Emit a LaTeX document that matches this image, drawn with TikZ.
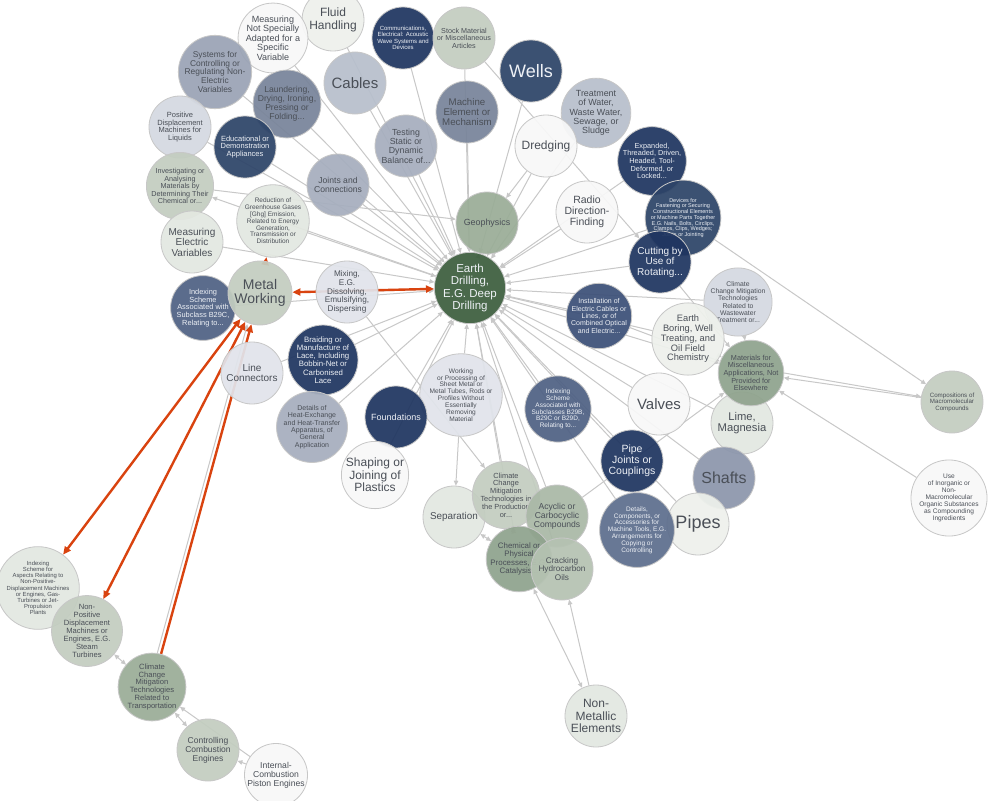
\documentclass[tikz,border=0pt]{standalone}
\usepackage{fontspec}
\setmainfont{Liberation Sans}
\usepackage{xcolor}
\usepackage{tikz}
\usetikzlibrary{arrows.meta, backgrounds}
\definecolor{pcnavy}{HTML}{1F3560}
\definecolor{pcnavyb}{HTML}{2D4468}
\definecolor{pcslate}{HTML}{4F6184}
\definecolor{pcslateb}{HTML}{3C5078}
\definecolor{pcslatec}{HTML}{5D6E8D}
\definecolor{pcsteel}{HTML}{78849A}
\definecolor{pcsteelb}{HTML}{8C96AC}
\definecolor{pcsteelc}{HTML}{9AA3B5}
\definecolor{pcmist}{HTML}{A6AEBE}
\definecolor{pcmistb}{HTML}{B7BFCC}
\definecolor{pcfog}{HTML}{D5D9E1}
\definecolor{pcfogb}{HTML}{E1E4EB}
\definecolor{pcwhite}{HTML}{F8F8F8}
\definecolor{pcsage}{HTML}{C3CDC0}
\definecolor{pcsageb}{HTML}{B5C2B2}
\definecolor{pcsagec}{HTML}{A9B8A6}
\definecolor{pcmoss}{HTML}{9AAD97}
\definecolor{pcmossb}{HTML}{8FA38D}
\definecolor{pcpale}{HTML}{E3E8E1}
\definecolor{pcpaleb}{HTML}{EEF1EC}
\definecolor{pcforest}{HTML}{3D5E3E}
\definecolor{pcedge}{HTML}{C8C8C8}
\definecolor{pcorange}{HTML}{D9430F}
\definecolor{pcink}{HTML}{4A4F57}
\definecolor{pcsnow}{HTML}{EEF1F6}

\begin{document}
\begin{tikzpicture}[
  x=1pt, y=-1pt,
  bub/.style={
    circle,
    draw=black!22,
    line width=0.8pt,
    fill opacity=0.93,
    text opacity=1,
    minimum size=62pt,
    inner sep=0pt,
    align=center,
    text=pcink
  },
  dark/.style={bub, text=pcsnow},
  fs/.style={font=\fontsize{#1}{\fpeval{1.05*#1}}\selectfont},
  link/.style={
    draw=pcedge,
    line width=1pt,
    -{Triangle[length=5pt,width=4.5pt]}
  },
  duplex/.style={link, {Triangle[length=5pt,width=4.5pt]}-{Triangle[length=5pt,width=4.5pt]}},
  hot/.style={
    draw=pcorange,
    line width=2.4pt,
    -{Triangle[length=8pt,width=7pt]}
  }
]
  \useasboundingbox (0,0) rectangle (1000,800);

  % upper cluster
  \node[bub, fill=pcpaleb, fs=12] (fluid) at (333,20) {Fluid\\Handling};
  \node[bub, fill=pcwhite, fs=9] (measnot) at (273,38) {Measuring\\Not Specially\\Adapted for a\\Specific\\Variable};
  \node[dark, fill=pcnavy, fs=6] (comm) at (403,38) {Communications,\\Electrical: Acoustic\\Wave Systems and\\Devices};
  \node[bub, fill=pcsage, fs=7.2] (stock) at (464,38) {Stock Material\\or Miscellaneous\\Articles};
  \node[dark, fill=pcnavyb, fs=18] (wells) at (531,71) {Wells};
  \node[bub, fill=pcmistb, fs=15] (cables) at (355,83) {Cables};
  \node[bub, fill=pcsteelc, fs=8.4] (systems) at (215,72) {Systems for\\Controlling or\\Regulating Non-\\Electric\\Variables};
  \node[bub, fill=pcsteel, fs=8.6] (laund) at (287,104) {Laundering,\\Drying, Ironing,\\Pressing or\\Folding...};
  \node[bub, fill=pcsteel, fs=9.7] (machine) at (467,112) {Machine\\Element or\\Mechanism};
  \node[bub, fill=pcmistb, fs=8.9] (treat) at (596,113) {Treatment\\of Water,\\Waste Water,\\Sewage, or\\Sludge};
  \node[bub, fill=pcwhite, fs=12] (dredging) at (546,146) {Dredging};
  \node[bub, fill=pcfog, fs=7.5] (posdisp) at (180,127) {Positive\\Displacement\\Machines for\\Liquids};
  \node[dark, fill=pcnavyb, fs=7.5] (edu) at (245,147) {Educational or\\Demonstration\\Appliances};
  \node[bub, fill=pcmist, fs=8.8] (testing) at (406,146) {Testing\\Static or\\Dynamic\\Balance of...};
  \node[dark, fill=pcnavy, fs=7.3] (expanded) at (652,161) {Expanded,\\Threaded, Driven,\\Headed, Tool-\\Deformed, or\\Locked...};
  \node[bub, fill=pcsage, fs=7.2] (invest) at (180,186) {Investigating or\\Analysing\\Materials by\\Determining Their\\Chemical or...};
  \node[bub, fill=pcmist, fs=8.6] (joints) at (338,185) {Joints and\\Connections};
  \node[bub, fill=pcmoss, fs=8.9] (geo) at (487,223) {Geophysics};
  \node[bub, fill=pcwhite, fs=10.5] (radio) at (587,212) {Radio\\Direction-\\Finding};
  \node[dark, fill=pcnavyb, fs=5.5] (fasten) at (683,218) {Devices for\\Fastening or Securing\\Constructional Elements\\or Machine Parts Together\\E.G. Nails, Bolts, Circlips,\\Clamps, Clips, Wedges;\\Joints or Jointing};
  \node[bub, fill=pcpale, fs=6.5] (red) at (273,221) {Reduction of\\Greenhouse Gases\\{[Ghg]} Emission,\\Related to Energy\\Generation,\\Transmission or\\Distribution};
  \node[bub, fill=pcpale, fs=10] (measel) at (192,242) {Measuring\\Electric\\Variables};
  \node[dark, fill=pcnavy, fs=10] (cutting) at (660,262) {Cutting by\\Use of\\Rotating...};

  % middle band
  \node[bub, fill=pcfogb, fs=8.2] (mixing) at (347,292) {Mixing,\\E.G.\\Dissolving,\\Emulsifying,\\Dispersing};
  \node[dark, fill=pcslate, fs=7.4] (b29c) at (203,308) {Indexing\\Scheme\\Associated with\\Subclass B29C,\\Relating to...};
  \node[bub, fill=pcsage, fs=14, minimum size=64pt] (mw) at (260,293) {Metal\\Working};
  \node[bub, fill=pcfog, fs=6.8] (ccmtw) at (738,302) {Climate\\Change Mitigation\\Technologies\\Related to\\Wastewater\\Treatment or...};
  \node[dark, fill=pcslateb, fs=7] (install) at (599,316) {Installation of\\Electric Cables or\\Lines, or of\\Combined Optical\\and Electric...};
  \node[bub, fill=pcpaleb, fs=9.3] (boring) at (688,339) {Earth\\Boring, Well\\Treating, and\\Oil Field\\Chemistry};
  \node[dark, fill=pcnavy, fs=7.8] (braid) at (323,360) {Braiding or\\Manufacture of\\Lace, Including\\Bobbin-Net or\\Carbonised\\Lace};
  \node[bub, fill=pcfogb, fs=10] (lineconn) at (252,373) {Line\\Connectors};
  \node[bub, fill=pcfogb, fs=6.6] (working) at (461,395) {Working\\or Processing of\\Sheet Metal or\\Metal Tubes, Rods or\\Profiles Without\\Essentially\\Removing\\Material};
  \node[bub, fill=pcwhite, fs=15] (valves) at (659,404) {Valves};
  \node[dark, fill=pcslate, fs=6.5] (b29b) at (558,409) {Indexing\\Scheme\\Associated with\\Subclasses B29B,\\B29C or B29D,\\Relating to...};
  \node[dark, fill=pcnavy, fs=9] (found) at (396,417) {Foundations};
  \node[bub, fill=pcmist, fs=7] (heat) at (312,427) {Details of\\Heat-Exchange\\and Heat-Transfer\\Apparatus, of\\General\\Application};
  \node[bub, fill=pcpale, fs=11.2] (lime) at (742,423) {Lime,\\Magnesia};
  \node[bub, fill=pcmossb, fs=7.3] (matmisc) at (751,373) {Materials for\\Miscellaneous\\Applications, Not\\Provided for\\Elsewhere};
  \node[dark, fill=pcnavy, fs=10.5] (pipejoint) at (632,461) {Pipe\\Joints or\\Couplings};
  \node[bub, fill=pcwhite, fs=12] (shaping) at (375,475) {Shaping or\\Joining of\\Plastics};
  \node[bub, fill=pcsteelb, fs=16] (shafts) at (724,478) {Shafts};

  % lower middle cluster
  \node[bub, fill=pcpale, fs=9.9] (sep) at (454,517) {Separation};
  \node[bub, fill=pcsage, fs=7.4] (ccmtp) at (506,495) {Climate\\Change\\Mitigation\\Technologies in\\the Production\\or...};
  \node[bub, fill=pcsagec, fs=8.6] (acyclic) at (557,516) {Acyclic or\\Carbocyclic\\Compounds};
  \node[bub, fill=pcpaleb, fs=18] (pipes) at (698,524) {Pipes};
  \node[dark, fill=pcslatec, fs=6.5] (dmt) at (637,530) {Details,\\Components, or\\Accessories for\\Machine Tools, E.G.\\Arrangements for\\Copying or\\Controlling};
  \node[bub, fill=pcmossb, fs=7.9] (chem) at (519,559) {Chemical or\\Physical\\Processes, E.G.\\Catalysis...};
  \node[bub, fill=pcsageb, fs=8.2] (cracking) at (562,569) {Cracking\\Hydrocarbon\\Oils};
  \node[bub, fill=pcpale, fs=12] (nonmet) at (596,716) {Non-\\Metallic\\Elements};

  % lower left chain
  \node[bub, fill=pcpale, fs=5.9] (idxasp) at (38,588) {Indexing\\Scheme for\\Aspects Relating to\\Non-Positive-\\Displacement Machines\\or Engines, Gas-\\Turbines or Jet-\\Propulsion\\Plants};
  \node[bub, fill=pcsage, fs=7.6] (npd) at (87,631) {Non-\\Positive\\Displacement\\Machines or\\Engines, E.G.\\Steam\\Turbines};
  \node[bub, fill=pcmoss, fs=7.6] (ccmtt) at (152,687) {Climate\\Change\\Mitigation\\Technologies\\Related to\\Transportation};
  \node[bub, fill=pcsage, fs=8.5] (control) at (208,750) {Controlling\\Combustion\\Engines};
  \node[bub, fill=pcwhite, fs=8.6] (internal) at (276,775) {Internal-\\Combustion\\Piston Engines};

  % right side
  \node[bub, fill=pcsage, fs=6.2] (compo) at (952,402) {Compositions of\\Macromolecular\\Compounds};
  \node[bub, fill=pcwhite, fs=6.6] (useinorg) at (949,498) {Use\\of Inorganic or\\Non-\\Macromolecular\\Organic Substances\\as Compounding\\Ingredients};

  % hub
  \node[dark, fill=pcforest, fs=11.5] (ed) at (470,288) {Earth\\Drilling,\\E.G. Deep\\Drilling};

  \begin{scope}[on background layer]
    \fill[white] (0,0) rectangle (1000,800);

    % everything pointing into the hub
    \draw[link] (fluid) -- (ed);
    \draw[link] (measnot) -- (ed);
    \draw[link] (comm) -- (ed);
    \draw[link] (stock) -- (ed);
    \draw[link] (wells) -- (ed);
    \draw[link] (cables) -- (ed);
    \draw[link] (systems) -- (ed);
    \draw[link] (laund) -- (ed);
    \draw[link] (machine) -- (ed);
    \draw[link] (treat) -- (ed);
    \draw[link] (dredging) -- (ed);
    \draw[link] (posdisp) -- (ed);
    \draw[link] (edu) -- (ed);
    \draw[link] (testing) -- (ed);
    \draw[link] (expanded) -- (ed);
    \draw[link] (joints) -- (ed);
    \draw[link] (geo) -- (ed);
    \draw[link] (radio) -- (ed);
    \draw[link] (fasten) -- (ed);
    \draw[link] (red) -- (ed);
    \draw[link] (measel) -- (ed);
    \draw[link] (cutting) -- (ed);
    \draw[link] (mixing) -- (ed);
    \draw[link] (b29c) -- (ed);
    \draw[link] (ccmtw) -- (ed);
    \draw[link] (install) -- (ed);
    \draw[link] (boring) -- (ed);
    \draw[link] (braid) -- (ed);
    \draw[link] (lineconn) -- (ed);
    \draw[link] (working) -- (ed);
    \draw[link] (valves) -- (ed);
    \draw[link] (b29b) -- (ed);
    \draw[link] (found) -- (ed);
    \draw[link] (heat) -- (ed);
    \draw[link] (lime) -- (ed);
    \draw[link] (pipejoint) -- (ed);
    \draw[link] (shaping) -- (ed);
    \draw[link] (shafts) -- (ed);
    \draw[link] (ccmtp) -- (ed);
    \draw[link] (acyclic) -- (ed);
    \draw[link] (pipes) -- (ed);
    \draw[link] (dmt) -- (ed);
    \draw[link] (chem) -- (ed);
    \draw[link] (cracking) -- (ed);

    % other grey links
    \draw[link] (stock) -- (cutting);
    \draw[link] (dredging) -- (geo);
    \draw[link] (invest) -- (geo);
    \draw[link] (ed) -- (invest);
    \draw[link] (fasten) -- (compo);
    \draw[link] (compo) -- (matmisc);
    \draw[link] (matmisc.east) -- (compo);
    \draw[link] (useinorg) -- (matmisc);
    \draw[link] (ccmtw) -- (matmisc);
    \draw[link] (acyclic) -- (matmisc);
    \draw[link] (cutting) -- (matmisc);
    \draw[link] (ed) -- (matmisc);
    \draw[link] (install) -- (matmisc);
    \draw[link] (boring) -- (matmisc);
    \draw[link] (mixing) -- (ccmtp);
    \draw[link] (working) -- (sep);
    \draw[duplex] (sep) -- (chem);
    \draw[duplex] (ccmtp) -- (chem);
    \draw[duplex] (nonmet) -- (chem);
    \draw[link] (nonmet) -- (cracking);
    \draw[link] (npd) -- (idxasp);
    \draw[duplex] (npd) -- (ccmtt);
    \draw[duplex] (ccmtt) -- (control);
    \draw[link] (internal) -- (control);
    \draw[link] (internal) -- (ccmtt);
    \draw[link, transform canvas={xshift=-4pt}] (ccmtt) -- (mw);

    % highlighted path
    \draw[hot, {Triangle[length=8pt,width=7pt]}-{Triangle[length=8pt,width=7pt]}] (mw) -- (ed);
    \draw[hot] (mw) -- (red);
    \draw[hot, {Triangle[length=8pt,width=7pt]}-{Triangle[length=8pt,width=7pt]}] (mw) -- (idxasp);
    \draw[hot, {Triangle[length=8pt,width=7pt]}-{Triangle[length=8pt,width=7pt]}] (mw) -- (npd);
    \draw[hot] (ccmtt) -- (mw);
  \end{scope}
\end{tikzpicture}
\end{document}
